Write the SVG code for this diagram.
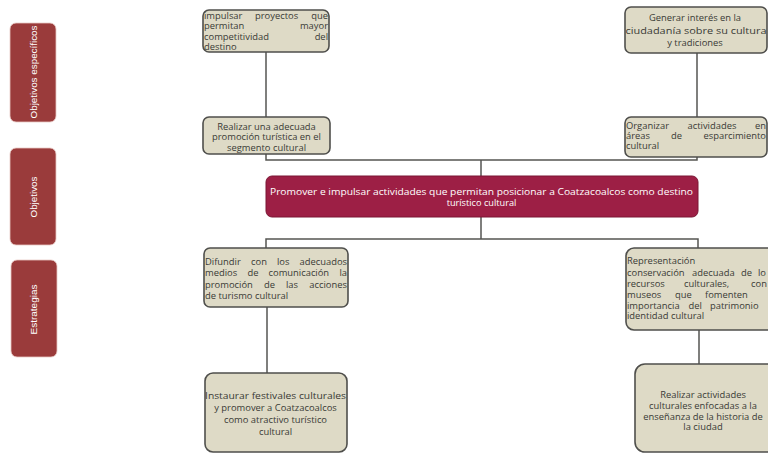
<svg xmlns="http://www.w3.org/2000/svg" width="768" height="453" viewBox="0 0 768 453">
  <style>
    .tag rect { fill: #9a3b3b; stroke: #e8c9c4; stroke-width: 0.8; }
    .tag text { fill: #ffffff; font-family: "Liberation Sans", Arial, sans-serif; font-size: 8.6px; text-anchor: middle; }
    .node rect { fill: #dedac6; stroke: #4f4f4c; stroke-width: 1.6; }
    .node text { fill: #3a3a36; font-family: "Open Sans", "Liberation Sans", sans-serif; font-size: 9.4px; }
    .node .c { text-anchor: middle; }
    .e { text-anchor: end; }
    .main rect { fill: #9d1f45; stroke: #7a1634; stroke-width: 1; }
    .main text { fill: #ffffff; font-family: "Open Sans", "Liberation Sans", sans-serif; font-size: 9.2px; text-anchor: middle; }
    .links path { fill: none; stroke: #555552; stroke-width: 1.5; }
  </style>

  <rect width="768" height="453" fill="#ffffff"/>

  <!-- level tags on the left -->
  <g id="tag-objetivos-especificos" class="tag">
    <rect x="10" y="23" width="46" height="99" rx="6"/>
    <text transform="translate(36.5 72) rotate(-90)" textLength="93" lengthAdjust="spacingAndGlyphs">Objetivos específicos</text>
  </g>
  <g id="tag-objetivos" class="tag">
    <rect x="10" y="148" width="46" height="97" rx="6"/>
    <text transform="translate(36.5 197) rotate(-90)" textLength="41" lengthAdjust="spacingAndGlyphs">Objetivos</text>
  </g>
  <g id="tag-estrategias" class="tag">
    <rect x="11" y="260" width="46" height="97" rx="6"/>
    <text transform="translate(37 309.5) rotate(-90)" textLength="50" lengthAdjust="spacingAndGlyphs">Estrategias</text>
  </g>

  <!-- connectors -->
  <g id="connectors" class="links">
    <path d="M266 52 V117"/>
    <path d="M697 53 V117"/>
    <path d="M266 154 V160 H697 V157"/>
    <path d="M481 160 V176"/>
    <path d="M481 217 V239"/>
    <path d="M266 249 V239 H698 V248"/>
    <path d="M267 307 V373"/>
    <path d="M699 330 V364"/>
  </g>

  <!-- specific objectives (justified paragraphs are laid out word by word) -->
  <g id="node-impulsar" class="node">
    <rect x="203" y="10" width="126" height="42" rx="6"/>
    <text y="18.5"><tspan x="204">impulsar </tspan><tspan x="255">proyectos </tspan><tspan class="e" x="328">que</tspan></text>
    <text y="29"><tspan x="204">permitan </tspan><tspan class="e" x="328">mayor</tspan></text>
    <text y="39.5"><tspan x="204">competitividad </tspan><tspan class="e" x="328">del</tspan></text>
    <text x="204" y="50">destino</text>
  </g>
  <g id="node-generar" class="node">
    <rect x="625" y="7" width="142" height="46" rx="6"/>
    <text class="c" x="695" y="21">Generar interés en la</text>
    <text class="c" x="696" y="33.5" textLength="141" lengthAdjust="spacingAndGlyphs">ciudadanía sobre su cultura</text>
    <text class="c" x="695" y="46">y tradiciones</text>
  </g>

  <!-- objectives -->
  <g id="node-promocion" class="node">
    <rect x="203" y="117" width="127" height="37" rx="6"/>
    <text class="c" x="266.5" y="129.5">Realizar una adecuada</text>
    <text class="c" x="266.5" y="140">promoción turística en el</text>
    <text class="c" x="266.5" y="150.5">segmento cultural</text>
  </g>
  <g id="node-organizar" class="node">
    <rect x="625" y="117" width="142" height="40" rx="6"/>
    <text y="128.5"><tspan x="626">Organizar </tspan><tspan x="687.5">actividades </tspan><tspan class="e" x="766">en</tspan></text>
    <text y="138.5"><tspan x="626">áreas </tspan><tspan x="671">de </tspan><tspan class="e" x="766">esparcimiento</tspan></text>
    <text x="626" y="148.5">cultural</text>
  </g>

  <!-- general objective -->
  <g id="node-general" class="main">
    <rect x="266" y="176" width="432" height="41" rx="6"/>
    <text x="481.5" y="194.5" textLength="423" lengthAdjust="spacingAndGlyphs">Promover e impulsar actividades que permitan posicionar a Coatzacoalcos como destino</text>
    <text x="481.5" y="206">turístico cultural</text>
  </g>

  <!-- strategies -->
  <g id="node-difundir" class="node">
    <rect x="204" y="248" width="144" height="59" rx="6"/>
    <text y="264.5"><tspan x="205">Difundir </tspan><tspan x="251">con </tspan><tspan x="277">los </tspan><tspan class="e" x="347">adecuados</tspan></text>
    <text y="276"><tspan x="205">medios </tspan><tspan x="247.5">de </tspan><tspan x="268.5">comunicación </tspan><tspan class="e" x="347">la</tspan></text>
    <text y="287.5"><tspan x="205">promoción </tspan><tspan x="264">de </tspan><tspan x="286">las </tspan><tspan class="e" x="347">acciones</tspan></text>
    <text x="205" y="299">de turismo cultural</text>
  </g>
  <g id="node-instaurar" class="node">
    <rect x="205" y="373" width="142" height="79" rx="8"/>
    <text class="c" x="275.5" y="399" textLength="141" lengthAdjust="spacingAndGlyphs">Instaurar festivales culturales</text>
    <text class="c" x="275.5" y="411">y promover a Coatzacoalcos</text>
    <text class="c" x="275.5" y="422.5">como atractivo turístico</text>
    <text class="c" x="275.5" y="434.5">cultural</text>
  </g>
  <g id="node-representacion" class="node">
    <rect x="626" y="248" width="160" height="82" rx="8"/>
    <text x="627" y="264">Representación</text>
    <text y="275.5"><tspan x="627">conservación </tspan><tspan x="692">adecuada </tspan><tspan x="741">de </tspan><tspan x="758">lo</tspan></text>
    <text y="286.5"><tspan x="627">recursos </tspan><tspan x="684">culturales, </tspan><tspan x="751">con</tspan></text>
    <text y="297.5"><tspan x="627">museos </tspan><tspan x="675">que </tspan><tspan x="705">fomenten</tspan></text>
    <text y="308.5"><tspan x="627">importancia </tspan><tspan x="688.5">del </tspan><tspan x="710">patrimonio</tspan></text>
    <text x="627" y="319">identidad cultural</text>
  </g>
  <g id="node-ensenanza" class="node">
    <rect x="635" y="364" width="150" height="88" rx="10"/>
    <text class="c" x="703" y="397.5">Realizar actividades</text>
    <text class="c" x="703" y="408.5">culturales enfocadas a la</text>
    <text class="c" x="703" y="419.5">enseñanza de la historia de</text>
    <text class="c" x="703" y="430">la ciudad</text>
  </g>
</svg>
